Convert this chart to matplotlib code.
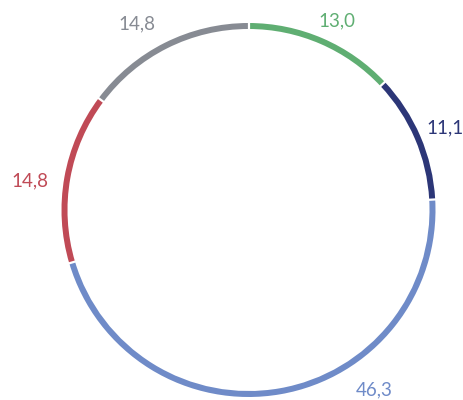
import matplotlib
matplotlib.use("Agg")
import matplotlib.pyplot as plt
import numpy as np

# Shares (%), clockwise from 12 o'clock
labels = ["13,0", "11,1", "46,3", "14,8", "14,8"]
values = [13.0, 11.1, 46.3, 14.8, 14.8]
colors = ["#5fae72", "#2c3677", "#6f8bc8", "#c04a56", "#878b93"]

# Label placement around the ring (degrees, pixel radius)
label_angles = [64.9, 22.6, -55.0, 172.4, 120.9]
label_radii = [209, 213, 219, 220, 217]

W, H = 463, 400
cx, cy = 248.5, H - 210.0
r_outer, ring_w = 187.0, 6.0

fig = plt.figure(figsize=(W / 100, H / 100), dpi=100)
ax = fig.add_axes([0, 0, 1, 1])
ax.axis("off")

ax.pie(values, colors=colors, startangle=90, counterclock=False,
       center=(cx, cy), radius=r_outer,
       wedgeprops=dict(width=ring_w, linewidth=0))

# thin white gaps between segments
bounds = 90 - 360 * np.cumsum([0] + values[:-1]) / sum(values)
for b in bounds:
    t = np.deg2rad(b)
    ax.plot([cx + (r_outer - ring_w - 2) * np.cos(t), cx + (r_outer + 2) * np.cos(t)],
            [cy + (r_outer - ring_w - 2) * np.sin(t), cy + (r_outer + 2) * np.sin(t)],
            color="white", lw=1.6, solid_capstyle="butt")

ax.set_xlim(0, W)
ax.set_ylim(0, H)
ax.set_aspect("equal")

for lab, col, ang, rad in zip(labels, colors, label_angles, label_radii):
    a = np.deg2rad(ang)
    ax.text(cx + rad * np.cos(a), cy + rad * np.sin(a), lab, color=col,
            fontsize=13.5, family="Lato", ha="center", va="center")

fig.savefig("out.png", dpi=100, facecolor="white")
